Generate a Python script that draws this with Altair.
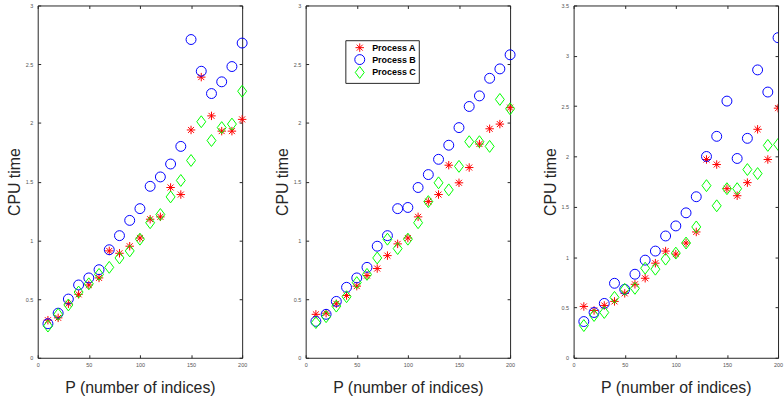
import altair as alt
import pandas as pd

# ---- data ----
P = [10, 20, 30, 40, 50, 60, 70, 80, 90, 100, 110, 120, 130, 140, 150, 160, 170, 180, 190, 200]

panel1_A = [0.32, 0.34, 0.46, 0.54, 0.62, 0.68, 0.91, 0.89, 0.95, 1.02, 1.18, 1.20, 1.45, 1.39, 1.94, 2.39, 2.06, 1.93, 1.93, 2.03]
panel1_B = [0.29, 0.38, 0.50, 0.62, 0.68, 0.75, 0.92, 1.04, 1.17, 1.27, 1.46, 1.54, 1.65, 1.80, 2.71, 2.44, 2.25, 2.35, 2.48, 2.68]
panel1_C = [0.27, 0.37, 0.45, 0.56, 0.63, 0.71, 0.77, 0.85, 0.91, 1.01, 1.15, 1.22, 1.37, 1.51, 1.68, 2.01, 1.85, 1.96, 1.99, 2.27]

panel2_A = [0.37, 0.38, 0.46, 0.53, 0.61, 0.70, 0.76, 0.87, 0.97, 1.02, 1.20, 1.33, 1.39, 1.64, 1.49, 1.62, 1.82, 1.95, 1.99, 2.13]
panel2_B = [0.31, 0.37, 0.48, 0.60, 0.68, 0.77, 0.95, 1.04, 1.27, 1.28, 1.45, 1.56, 1.69, 1.81, 1.96, 2.14, 2.23, 2.38, 2.46, 2.58]
panel2_C = [0.30, 0.35, 0.44, 0.52, 0.64, 0.71, 0.85, 1.01, 0.93, 1.01, 1.15, 1.33, 1.49, 1.43, 1.63, 1.84, 1.84, 1.80, 2.20, 2.12]

panel3_A = [0.51, 0.47, 0.52, 0.56, 0.64, 0.73, 0.79, 0.94, 1.06, 1.03, 1.14, 1.25, 1.97, 1.92, 1.68, 1.61, 1.74, 2.27, 1.97, 2.48]
panel3_B = [0.36, 0.45, 0.54, 0.74, 0.68, 0.83, 0.97, 1.06, 1.21, 1.31, 1.44, 1.60, 2.00, 2.20, 2.55, 1.98, 2.18, 2.86, 2.64, 3.18]
panel3_C = [0.32, 0.42, 0.45, 0.60, 0.68, 0.69, 0.89, 0.88, 0.98, 1.04, 1.14, 1.30, 1.71, 1.51, 1.68, 1.68, 1.87, 1.83, 2.11, 2.12]

series_names = ["Process A", "Process B", "Process C"]
series_colors = ["#ff0000", "#0000ff", "#00ff00"]
series_shapes = [
    "M-0.85,0L0.85,0M0,-0.85L0,0.85M-0.6,-0.6L0.6,0.6M-0.6,0.6L0.6,-0.6",
    "circle",
    "M0,-1.2L0.9,0L0,1.2L-0.9,0Z",
]

x_ticks = [0, 50, 100, 150, 200]
y_ticks_3 = [0, 0.5, 1, 1.5, 2, 2.5, 3]
y_ticks_35 = [0, 0.5, 1, 1.5, 2, 2.5, 3, 3.5]

FONT = "Liberation Sans"
AX = "#262626"
W, H = 206, 355


def make_df(a, b, c):
    rows = []
    for name, vals in zip(series_names, [a, b, c]):
        for p, v in zip(P, vals):
            rows.append({"P": p, "time": v, "series": name})
    return pd.DataFrame(rows)


def panel(a, b, c, ymax, yticks, legend, clip=False):
    df = make_df(a, b, c)
    xs = alt.Scale(domain=[0, 200], nice=False, zero=False)
    ys = alt.Scale(domain=[0, ymax], nice=False, zero=False)
    common = dict(grid=False, domain=False, tickSize=3, offset=-3,
                  tickColor=AX, tickWidth=1, labelFlush=False)
    pts = alt.Chart(df).mark_point(filled=False, size=100, strokeWidth=1, opacity=1,
                                   clip=clip).encode(
        x=alt.X("P:Q", scale=xs, axis=alt.Axis(
            values=x_ticks, format="~r", labelFontSize=5.5, labelColor="#555555",
            labelFont=FONT, labelPadding=5, title="P (number of indices)",
            titleFont=FONT, titleFontSize=16, titleFontWeight="normal",
            titleColor=AX, titlePadding=11, **common)),
        y=alt.Y("time:Q", scale=ys, axis=alt.Axis(
            values=yticks, format="~r", labelFontSize=5.5, labelColor="#555555",
            labelFont=FONT, labelPadding=5, title="CPU time",
            titleFont=FONT, titleFontSize=16, titleFontWeight="normal",
            titleColor=AX, titlePadding=3, **common)),
        color=alt.Color("series:N", scale=alt.Scale(domain=series_names, range=series_colors),
                        legend=legend),
        shape=alt.Shape("series:N", scale=alt.Scale(domain=series_names, range=series_shapes),
                        legend=legend),
    )
    frame = alt.Chart(df).mark_point(opacity=0, clip=True).encode(
        x=alt.X("P:Q", scale=xs, axis=alt.Axis(orient="top", values=x_ticks, labels=False,
                                               title=None, **common)),
        y=alt.Y("time:Q", scale=ys, axis=alt.Axis(orient="right", values=yticks, labels=False,
                                                  title=None, **common)),
    )
    return alt.layer(frame, pts).resolve_axis(x="independent", y="independent").properties(
        width=W, height=H)


legend2 = alt.Legend(orient="none", legendX=40, legendY=35, title=None,
                     strokeColor=AX, fillColor="white", padding=2,
                     labelFont=FONT, labelFontSize=9, labelFontWeight="bold",
                     labelColor="black", symbolSize=100, symbolStrokeWidth=1,
                     symbolOffset=7, labelOffset=7, rowPadding=-3, cornerRadius=0)

p1 = panel(panel1_A, panel1_B, panel1_C, 3, y_ticks_3, None)
p2 = panel(panel2_A, panel2_B, panel2_C, 3, y_ticks_3, legend2)
p3 = panel(panel3_A, panel3_B, panel3_C, 3.5, y_ticks_35, None, clip=True)

chart = alt.hconcat(p1, p2, p3, spacing=64, bounds="flush").resolve_legend(
    color="independent", shape="independent"
).properties(
    padding={"left": 5, "top": 1, "right": 0, "bottom": 0},
    background="white",
).configure_view(stroke=AX, strokeWidth=1)

chart.save("out.html", embed_options={"renderer": "svg", "actions": False})
